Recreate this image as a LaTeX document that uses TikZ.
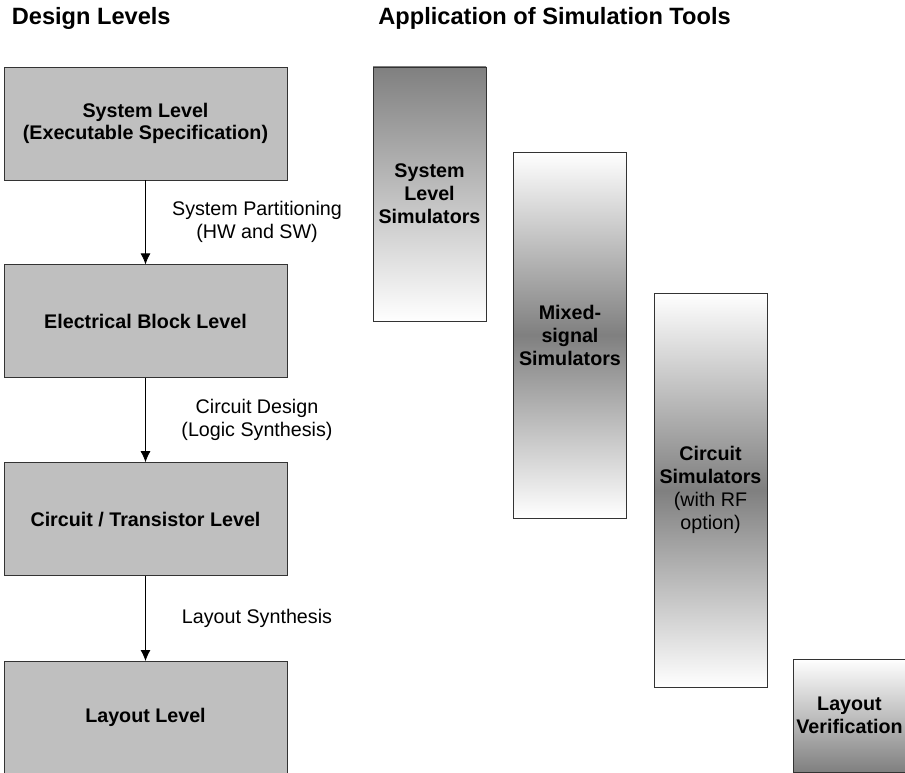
\documentclass[tikz,border=0pt]{standalone}
\usepackage{fontspec}
\setmainfont{Liberation Sans}
\usetikzlibrary{positioning}
\usetikzlibrary{arrows.meta}

\begin{document}
\begin{tikzpicture}[x=1pt, y=-1pt, ->, >={Latex[length=11pt, width=10pt]}, draw=black, line width=0.8pt, font=\fontsize{19.7}{23}\selectfont]
    \tikzstyle{level}=[draw=black!80, fill=black!25, rectangle, minimum width=283pt, minimum height=113pt, inner sep=0pt, align=center, font=\fontsize{19.7}{22}\selectfont\bfseries]
    \tikzstyle{tool}=[draw=black!80, rectangle, minimum width=113pt, inner sep=0pt, align=center]
    \tikzstyle{steplabel}=[midway, xshift=111.5pt, align=center]
    \tikzstyle{title}=[anchor=base west, inner sep=0pt, font=\fontsize{23.6}{28}\selectfont\bfseries]

    \useasboundingbox (0,0) rectangle (905,773);

    \node[title] (dltitle) at (11.5,25) {Design Levels};
    \node[title] (attitle) at (378,25) {Application of Simulation Tools};

    \node[level] (sys) at (145.5,123.5) {System Level\\(Executable Specification)};
    \node[level, below=84pt of sys] (blk) {Electrical Block Level};
    \node[level, below=84pt of blk] (ckt) {Circuit / Transistor Level};
    \node[level, below=85pt of ckt] (lay) {Layout Level};

    \path (sys) edge node[steplabel] (partlbl) {System Partitioning\\(HW and SW)} (blk);
    \path (blk) edge node[steplabel] (cktlbl) {Circuit Design\\(Logic Synthesis)} (ckt);
    \path (ckt) edge node[steplabel] (laylbl) {Layout Synthesis} (lay);

    \node[tool, minimum height=254pt, top color=black!50, bottom color=white] (slsim) at (429.5,194) {\bfseries System\\\bfseries Level\\\bfseries Simulators};
    \node[tool, minimum height=366pt, top color=white, bottom color=white, middle color=black!50] (mssim) at (570,335) {\bfseries Mixed-\\\bfseries signal\\\bfseries Simulators};
    \node[tool, minimum height=394pt, top color=white, bottom color=white, middle color=black!50] (cksim) at (710.5,490) {\bfseries Circuit\\\bfseries Simulators\\(with RF\\option)};
    \node[tool, minimum height=113pt, top color=white, bottom color=black!50] (layver) at (849.5,715.5) {\bfseries Layout\\\bfseries Verification};
\end{tikzpicture}
\end{document}
